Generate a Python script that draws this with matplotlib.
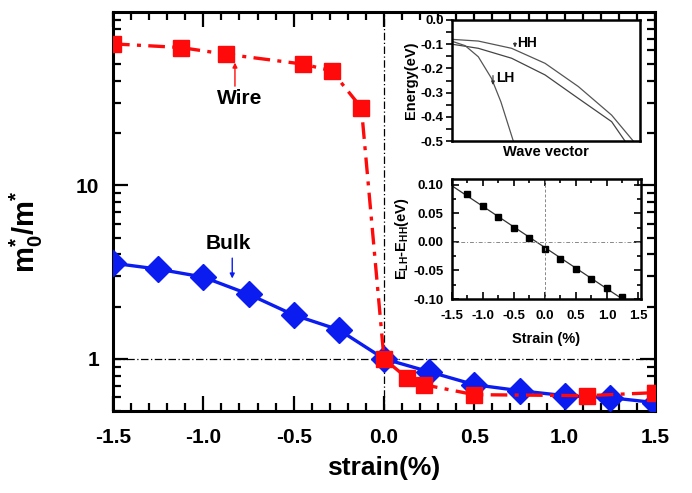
import numpy as np
import matplotlib
matplotlib.use("Agg")
import matplotlib.pyplot as plt
from matplotlib.ticker import FixedLocator, MultipleLocator, NullFormatter, FormatStrFormatter, LogLocator

plt.rcParams['font.family'] = ['Liberation Sans', 'DejaVu Sans']
plt.rcParams['font.weight'] = 'bold'
plt.rcParams['mathtext.fontset'] = 'custom'
plt.rcParams['mathtext.rm'] = 'Liberation Sans:bold'
plt.rcParams['mathtext.it'] = 'Liberation Sans:bold'
plt.rcParams['mathtext.bf'] = 'Liberation Sans:bold'

# ---------------- data ----------------
wire_strain = [-1.5, -1.125, -0.875, -0.45, -0.29, -0.125, 0.0, 0.125, 0.22, 0.5, 1.125, 1.5]
wire_ratio = [65.5, 62.4, 57.1, 50.1, 45.8, 28.0, 1.0, 0.778, 0.709, 0.621, 0.613, 0.638]

bulk_strain = [-1.5, -1.25, -1.0, -0.75, -0.5, -0.25, 0.0, 0.25, 0.5, 0.75, 1.0, 1.25, 1.5]
bulk_ratio = [3.56, 3.29, 2.96, 2.36, 1.79, 1.47, 1.0, 0.842, 0.709, 0.655, 0.613, 0.597, 0.559]

# inset 1: band dispersion (normalized wave vector)
hh_k = [0.0, 0.14, 0.317, 0.495, 0.672, 0.849, 0.964]
hh_E = [-0.080, -0.087, -0.117, -0.179, -0.275, -0.393, -0.5]
hh2_k = [0.0, 0.14, 0.317, 0.495, 0.672, 0.849, 0.92]
hh2_E = [-0.100, -0.117, -0.158, -0.227, -0.324, -0.420, -0.5]
lh_k = [0.0, 0.07, 0.14, 0.21, 0.26, 0.326]
lh_E = [-0.088, -0.106, -0.152, -0.241, -0.338, -0.5]

# inset 2: E_LH - E_HH vs strain
split_strain = [-1.25, -1.0, -0.75, -0.5, -0.25, 0.0, 0.25, 0.5, 0.75, 1.0, 1.25]
split_dE = [0.0835, 0.063, 0.044, 0.0247, 0.0065, -0.0124, -0.030, -0.0476, -0.0647, -0.081, -0.096]

xticks_main = [-1.5, -1.0, -0.5, 0.0, 0.5, 1.0, 1.5]
yticks_main = [1, 10]
yticklabels_main = ['1', '10']

# ---------------- figure ----------------
fig = plt.figure(figsize=(6.92, 4.93), dpi=100)
ax = fig.add_axes([113/692, 1-411/493, (655-113)/692, (411-12)/493])

ax.set_yscale('log')
ax.set_xlim(-1.5, 1.5)
ax.set_ylim(0.5, 100)

ax.axhline(1.0, color='black', lw=0.9, ls=(0, (6, 2, 1, 2)), zorder=1)
ax.axvline(0.0, color='black', lw=0.9, ls=(0, (6, 2, 1, 2)), zorder=1)

ax.plot(bulk_strain, bulk_ratio, color='#0a1cf0', lw=2.4, marker='D', ms=13,
        mec='#0a1cf0', mfc='#0a1cf0', zorder=3, clip_on=True)
ax.plot(wire_strain, wire_ratio, color='#ff0a0a', lw=2.4, ls=(0, (5, 2.2, 1.2, 2.2)),
        marker='s', ms=11, mec='#ff0a0a', mfc='#ff0a0a', zorder=4, clip_on=True)

ax.xaxis.set_major_locator(FixedLocator(xticks_main))
ax.xaxis.set_minor_locator(MultipleLocator(0.1))
ax.xaxis.set_major_formatter(FormatStrFormatter('%.1f'))
ax.yaxis.set_major_locator(FixedLocator(yticks_main))
ax.set_yticklabels(yticklabels_main)
ax.yaxis.set_minor_locator(LogLocator(base=10, subs=np.arange(2, 10)))
ax.yaxis.set_minor_formatter(NullFormatter())

ax.tick_params(which='both', direction='in', top=True, right=True, width=1.6)
ax.tick_params(which='major', length=11)
ax.tick_params(which='minor', length=5.5)
ax.tick_params(axis='x', which='major', pad=12, labelsize=15)
ax.tick_params(axis='y', which='major', pad=10, labelsize=15)
for s in ax.spines.values():
    s.set_linewidth(2.2)

ax.set_xlabel('strain(%)', fontsize=19, fontweight='bold', labelpad=7)
ax.set_ylabel(r'm$^{*}_{0}$/m$^{*}$', fontsize=21, fontweight='bold')
ax.yaxis.set_label_coords(-0.125, 0.45)

# annotations
ax.annotate('', xy=(-0.825, 53), xytext=(-0.825, 36),
            arrowprops=dict(arrowstyle='-|>', color='#ff0a0a', lw=1.0, mutation_scale=7))
ax.text(-0.80, 31.5, 'Wire', fontsize=15, fontweight='bold', ha='center', va='center', color='black')
ax.annotate('', xy=(-0.84, 2.8), xytext=(-0.84, 3.95),
            arrowprops=dict(arrowstyle='-|>', color='#0a1cf0', lw=1.0, mutation_scale=7))
ax.text(-0.86, 4.65, 'Bulk', fontsize=15, fontweight='bold', ha='center', va='center', color='black')

# ---------------- inset 1 ----------------
ax1 = fig.add_axes([452/692, 1-141/493, (640-452)/692, (141-20)/493])
ax1.plot(hh_k, hh_E, color='#555555', lw=0.9)
ax1.plot(hh2_k, hh2_E, color='#444444', lw=0.9)
ax1.plot(lh_k, lh_E, color='#555555', lw=0.9)
ax1.set_xlim(0, 1)
ax1.set_ylim(-0.5, 0.0)
ax1.set_xticks([])
ax1.yaxis.set_major_locator(MultipleLocator(0.1))
ax1.yaxis.set_minor_locator(MultipleLocator(0.05))
ax1.yaxis.set_major_formatter(FormatStrFormatter('%.1f'))
ax1.tick_params(axis='y', which='both', direction='out', length=4, width=1.2, labelsize=9.5, pad=2)
for s in ax1.spines.values():
    s.set_linewidth(1.8)
ax1.set_xlabel('Wave vector', fontsize=10.5, fontweight='bold', labelpad=3)
ax1.set_ylabel('Energy(eV)', fontsize=10.5, fontweight='bold', labelpad=2)
ax1.annotate('', xy=(0.335, -0.125), xytext=(0.335, -0.082),
             arrowprops=dict(arrowstyle='-|>', color='#333333', lw=0.8, mutation_scale=5))
ax1.text(0.345, -0.095, 'HH', fontsize=10, fontweight='bold', ha='left', va='center')
ax1.annotate('', xy=(0.218, -0.28), xytext=(0.218, -0.218),
             arrowprops=dict(arrowstyle='-|>', color='#333333', lw=0.8, mutation_scale=5))
ax1.text(0.235, -0.24, 'LH', fontsize=10, fontweight='bold', ha='left', va='center')

# ---------------- inset 2 ----------------
ax2 = fig.add_axes([452/692, 1-299/493, (641-452)/692, (299-179)/493])
coef = np.polyfit(split_strain, split_dE, 1)
fit_x = np.array([-1.5, 1.55])
ax2.plot(fit_x, np.polyval(coef, fit_x), color='#333333', lw=0.9)
ax2.plot(split_strain, split_dE, ls='none', marker='s', ms=4.5, color='black')
ax2.axhline(0.0, color='#888888', lw=0.7, ls=(0, (4, 2, 1, 2)))
ax2.axvline(0.0, color='#888888', lw=0.7, ls=(0, (3, 2)))
ax2.set_xlim(-1.5, 1.55)
ax2.set_ylim(-0.10, 0.11)
ax2.xaxis.set_major_locator(FixedLocator(xticks_main))
ax2.xaxis.set_minor_locator(MultipleLocator(0.25))
ax2.xaxis.set_major_formatter(FormatStrFormatter('%.1f'))
ax2.yaxis.set_major_locator(MultipleLocator(0.05))
ax2.yaxis.set_minor_locator(MultipleLocator(0.025))
ax2.yaxis.set_major_formatter(FormatStrFormatter('%.2f'))
ax2.tick_params(which='both', direction='in', top=True, right=True, width=1.2, labelsize=9.5)
ax2.tick_params(which='major', length=5)
ax2.tick_params(which='minor', length=3)
ax2.tick_params(axis='x', pad=8)
ax2.tick_params(axis='y', pad=6)
for s in ax2.spines.values():
    s.set_linewidth(1.8)
ax2.set_xlabel('Strain (%)', fontsize=10.5, fontweight='bold', labelpad=7)
ax2.set_ylabel(r'E$_{\mathrm{LH}}$-E$_{\mathrm{HH}}$(eV)', fontsize=10.5, fontweight='bold', labelpad=2)

fig.savefig('out.png', dpi=100)
